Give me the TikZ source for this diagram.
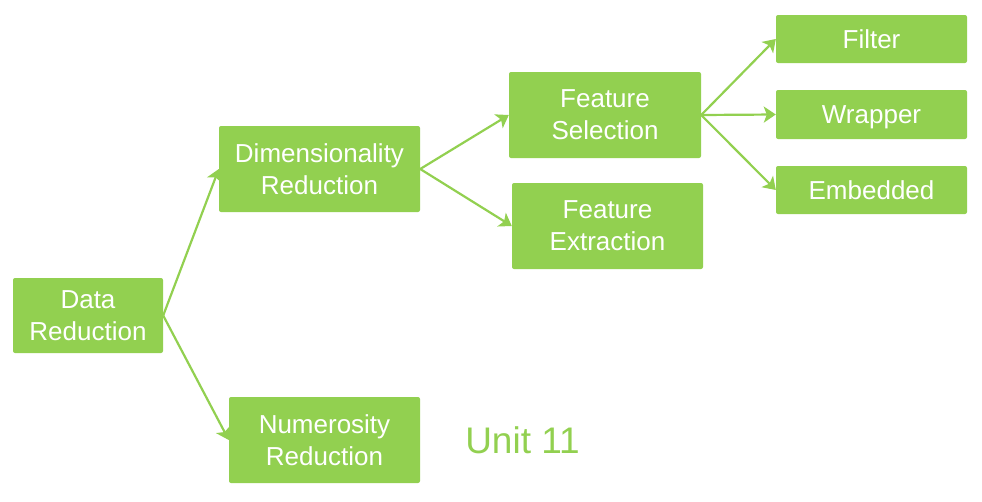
\documentclass[tikz,border=0pt]{standalone}
\usepackage{fontspec}
\setmainfont{Liberation Sans}
\usetikzlibrary{arrows.meta}
\definecolor{lgreen}{HTML}{92D050}
\begin{document}
\begin{tikzpicture}[x=1pt,y=-1pt,
  box/.style={fill=lgreen, rounded corners=2pt, inner sep=0pt, align=center,
    text=white, font=\fontsize{26}{32}\selectfont},
  oneline/.style={text height=18.6pt, text depth=0pt},
  conn/.style={draw=lgreen, line width=2.2pt, -{Stealth[length=12pt,width=16pt,inset=3pt]}}]
\useasboundingbox (0,0) rectangle (982,501);
\node[box, minimum width=150pt, minimum height=75pt] (data) at (88,315.5) {Data\\Reduction};
\node[box, minimum width=201pt, minimum height=86pt] (dim) at (319.5,169) {Dimensionality\\Reduction};
\node[box, minimum width=191pt, minimum height=86pt] (num) at (324.5,440) {Numerosity\\Reduction};
\node[box, minimum width=192pt, minimum height=86pt] (fs) at (605,115) {Feature\\Selection};
\node[box, minimum width=191pt, minimum height=86pt] (fe) at (607.5,226) {Feature\\Extraction};
\node[box, oneline, minimum width=191pt, minimum height=48pt] (filter) at (871.5,39) {Filter};
\node[box, oneline, minimum width=191pt, minimum height=49pt] (wrapper) at (871.5,114.5) {Wrapper};
\node[box, oneline, minimum width=191pt, minimum height=48pt] (embedded) at (871.5,190) {Embedded};
\node[anchor=base, inner sep=0pt, text=lgreen, font=\fontsize{37}{44}\selectfont] (unit) at (522.5,453) {Unit 11};
\draw[conn] (data.east) -- (dim.west);
\draw[conn] (data.east) -- (num.west);
\draw[conn] (dim.east) -- (fs.west);
\draw[conn] (dim.east) -- (fe.west);
\draw[conn] (fs.east) -- (filter.west);
\draw[conn] (fs.east) -- (wrapper.west);
\draw[conn] (fs.east) -- (embedded.west);
\end{tikzpicture}
\end{document}
